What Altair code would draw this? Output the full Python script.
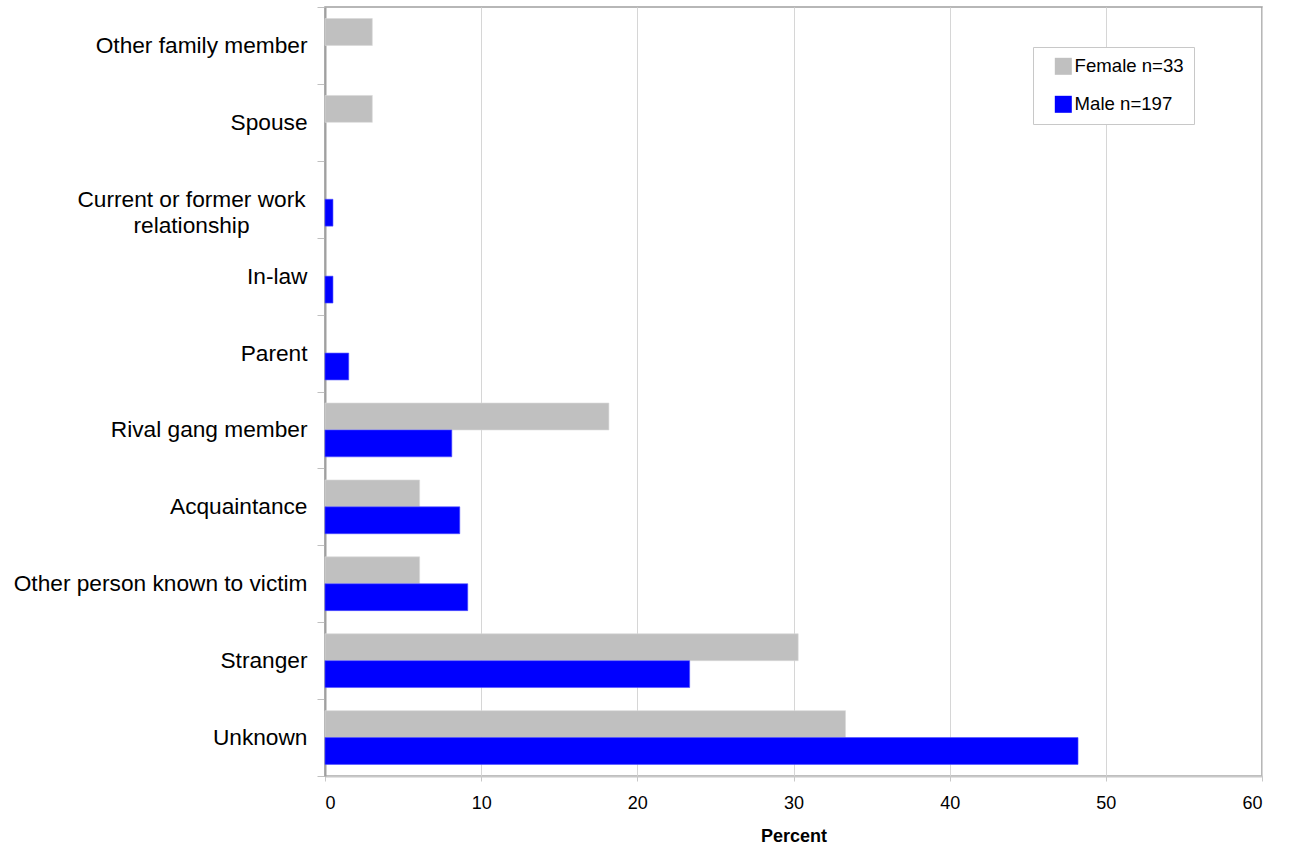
import altair as alt
import pandas as pd

# Victim-offender relationship, percent of victims by sex
categories = [
    "Other family member",
    "Spouse",
    "Current or former work relationship",
    "In-law",
    "Parent",
    "Rival gang member",
    "Acquaintance",
    "Other person known to victim",
    "Stranger",
    "Unknown",
]
series_names = ["Female n=33", "Male n=197"]
female_pct = [3.03, 3.03, 0.0, 0.0, 0.0, 18.18, 6.06, 6.06, 30.30, 33.33]
male_pct = [0.0, 0.0, 0.51, 0.51, 1.52, 8.12, 8.63, 9.14, 23.35, 48.22]
series_colors = ["#C0C0C0", "#0000FF"]
x_ticks = [0, 10, 20, 30, 40, 50, 60]

rows = []
for cat, f, m in zip(categories, female_pct, male_pct):
    rows.append({"relationship": cat, "series": series_names[0], "pct": f})
    rows.append({"relationship": cat, "series": series_names[1], "pct": m})
df = pd.DataFrame(rows)

FONT = "Liberation Sans"
WRAPPED = "Current or former work relationship"

chart = (
    alt.Chart(df)
    .transform_filter("datum.pct > 0")
    .mark_bar(strokeWidth=1, strokeOpacity=0.6)
    .encode(
        x=alt.X(
            "pct:Q",
            scale=alt.Scale(domain=[0, 60], nice=False),
            axis=alt.Axis(
                values=x_ticks,
                title="Percent",
                titleFont=FONT,
                titleFontSize=18,
                titleFontWeight="bold",
                titleColor="#000000",
                titlePadding=15,
                labelFont=FONT,
                labelFontSize=18,
                labelColor="#000000",
                labelPadding=13,
                tickSize=5,
                tickColor="#c8c8c8",
                domainColor="#c8c8c8",
                domainWidth=2,
                grid=True,
                gridColor="#d6d6d6",
                gridWidth=1,
            ),
        ),
        y=alt.Y(
            "relationship:N",
            sort=categories,
            scale=alt.Scale(domain=categories, paddingInner=0, paddingOuter=0),
            axis=alt.Axis(
                title=None,
                labelFont=FONT,
                labelFontSize=22.7,
                labelColor="#000000",
                labelLimit=400,
                labelExpr=(
                    f"datum.label == '{WRAPPED}' ? "
                    "['Current or former work', 'relationship'] : datum.label"
                ),
                labelAlign={
                    "condition": {"test": f"datum.label == '{WRAPPED}'", "value": "center"},
                    "value": "right",
                },
                labelPadding={
                    "condition": {"test": f"datum.label == '{WRAPPED}'", "value": 126},
                    "value": 10,
                },
                labelLineHeight=26,
                tickBand="extent",
                tickSize=8,
                tickColor="#c0c0c0",
                domainColor="#a0a0a0",
                domainWidth=2,
                grid=False,
            ),
        ),
        yOffset=alt.YOffset(
            "series:N",
            sort=series_names,
            scale=alt.Scale(domain=series_names, paddingInner=0, paddingOuter=0.43),
        ),
        color=alt.Color(
            "series:N",
            sort=series_names,
            scale=alt.Scale(domain=series_names, range=series_colors),
            legend=alt.Legend(
                title=None,
                orient="none",
                legendX=708,
                legendY=40,
                labelFont=FONT,
                labelFontSize=18.6,
                labelColor="#000000",
                symbolType="square",
                symbolSize=289,
                symbolStrokeWidth=0,
                symbolOffset=11,
                labelOffset=2,
                rowPadding=19,
                padding=10,
                strokeColor="#c8c8c8",
                fillColor="#ffffff",
            ),
        ),
        stroke=alt.Stroke(
            "series:N",
            sort=series_names,
            scale=alt.Scale(domain=series_names, range=["#d8d8d8", "#5050ff"]),
            legend=None,
        ),
    )
    .properties(
        width=937,
        height=769,
        autosize=alt.AutoSizeParams(type="none"),
        padding={"left": 325, "top": 7, "right": 28, "bottom": 74},
        background="#ffffff",
    )
    .configure_view(stroke="#a0a0a0", strokeWidth=1.5)
)

chart.save("out.html", embed_options={"renderer": "svg", "actions": False})
